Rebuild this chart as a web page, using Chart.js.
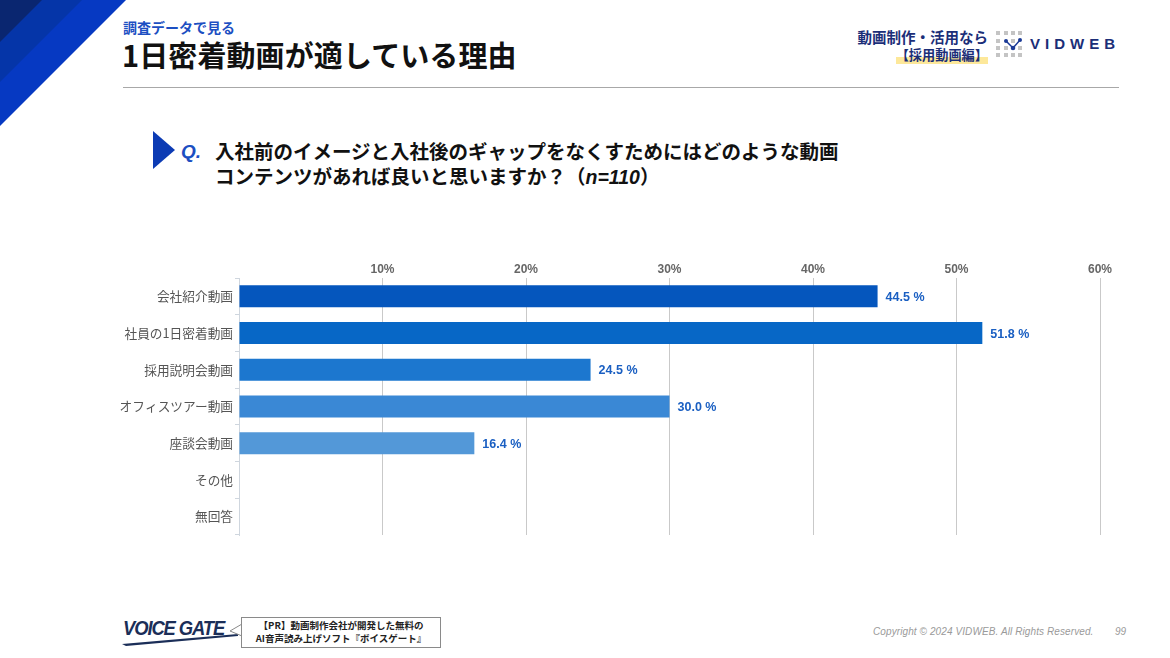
<!DOCTYPE html>
<html lang="ja">
<head>
<meta charset="utf-8">
<script src="https://cdn.jsdelivr.net/npm/chart.js@4.4.1/dist/chart.umd.min.js"></script>
<style>
  html, body { margin: 0; padding: 0; }
  body {
    width: 1170px; height: 658px; position: relative; overflow: hidden;
    background: #fff; font-family: "Noto Sans CJK JP", "Noto Sans", sans-serif;
  }
  .abs { position: absolute; white-space: nowrap; }
  #stripes { position: absolute; left: 0; top: 0; }
  .sub { left: 123px; top: 17px; font-size: 14px; font-weight: 700; color: #1c4fc2; }
  .title { left: 122px; top: 33px; font-size: 29px; font-weight: 700; color: #111; letter-spacing: 0.1px; }
  .rule { left: 123px; top: 87px; width: 996px; height: 1px; background: #a8a8a8; }
  .brand1 { right: 182px; top: 26px; font-size: 14.5px; font-weight: 700; color: #1b2e78; }
  .brand2 { right: 182px; top: 45px; font-size: 13.2px; font-weight: 700; color: #1b2e78; }
  .brand2 span { background: linear-gradient(transparent 62%, #fde89a 62%); }
  .vid { left: 1030px; top: 35px; font-size: 15px; font-weight: 700; color: #1b2e78; letter-spacing: 5px; font-family: "Liberation Sans", sans-serif; }
  .qmark { left: 153px; top: 131px; width: 0; height: 0; border-top: 19px solid transparent; border-bottom: 19px solid transparent; border-left: 22px solid #0c3bb4; }
  .q { left: 181px; top: 141px; font-size: 19px; font-weight: 700; font-style: italic; color: #1c4fc2; font-family: "Liberation Sans", sans-serif; }
  .qtext { left: 215px; top: 138px; font-size: 19.5px; font-weight: 700; color: #111; line-height: 25px; letter-spacing: 0; }
  .qtext i { font-family: "Liberation Sans", sans-serif; }
  #chartBox { position: absolute; left: 0; top: 250px; width: 1170px; height: 300px; }
  .vg { left: 123px; top: 617px; font-size: 20px; font-weight: 800; font-style: italic; color: #1b2e58; font-family: "Liberation Sans", sans-serif; letter-spacing: -1.2px; transform: scaleX(0.92); transform-origin: left; }
  .bubble { left: 241px; top: 617px; width: 198px; height: 28px; border: 1px solid #8a8a8a; font-size: 9.5px; font-weight: 700; color: #222; text-align: center; line-height: 13px; padding-top: 1px; }
  .copy { left: 873px; top: 626px; font-size: 10px; font-style: italic; color: #9a9a9a; font-family: "Liberation Sans", sans-serif; letter-spacing: 0.1px; }
  .page { left: 1115px; top: 626px; font-size: 10px; font-style: italic; color: #9a9a9a; font-family: "Liberation Sans", sans-serif; }
</style>
</head>
<body>
<svg id="stripes" width="140" height="140">
  <polygon points="0,0 126,0 0,126" fill="#0639c2"/>
  <polygon points="0,0 82,0 0,82" fill="#0535a8"/>
  <polygon points="0,0 42,0 0,42" fill="#0a2670"/>
</svg>
<div class="abs sub">調査データで見る</div>
<div class="abs title">1日密着動画が適している理由</div>
<div class="abs rule"></div>

<div class="abs brand1">動画制作・活用なら</div>
<div class="abs brand2"><span>【採用動画編】</span></div>
<svg class="abs" style="left:994px;top:29px" width="32" height="32">
  <g fill="#c4c4c4">
    <rect x="2" y="2" width="4" height="4"/><rect x="10" y="2" width="4" height="4"/><rect x="17" y="2" width="4" height="4"/><rect x="24" y="2" width="4" height="4"/>
    <rect x="2" y="10" width="4" height="4"/><rect x="24" y="17" width="4" height="4"/>
    <rect x="2" y="17" width="4" height="4"/><rect x="10" y="17" width="4" height="4"/><rect x="17" y="10" width="4" height="4"/>
    <rect x="2" y="24" width="4" height="4"/><rect x="10" y="24" width="4" height="4"/><rect x="17" y="24" width="4" height="4"/><rect x="24" y="24" width="4" height="4"/>
  </g>
  <polyline points="12,12 19,19 26,11" fill="none" stroke="#1b3a96" stroke-width="1.5"/>
  <g fill="#1b3a96"><circle cx="12" cy="12" r="2"/><circle cx="19" cy="19" r="2.3"/><circle cx="26" cy="11" r="2"/></g>
</svg>
<div class="abs vid">VIDWEB</div>

<div class="abs qmark"></div>
<div class="abs q">Q.</div>
<div class="abs qtext">入社前のイメージと入社後のギャップをなくすためにはどのような動画<br>コンテンツがあれば良いと思いますか？（<i>n=110</i>）</div>

<div id="chartBox"><canvas id="bars"></canvas></div>

<svg class="abs" style="left:120px;top:630px" width="125" height="16">
  <polygon points="2,14 118,4 118,6 6,16" fill="#1b2e58"/>
</svg>
<div class="abs vg">VOICE GATE</div>
<svg class="abs" style="left:228px;top:622px" width="16" height="18">
  <polyline points="14,2 2,9 14,14" fill="#fff" stroke="#8a8a8a" stroke-width="1"/>
</svg>
<div class="abs bubble">【PR】動画制作会社が開発した無料の<br>AI音声読み上げソフト『ボイスゲート』</div>
<div class="abs copy">Copyright © 2024 VIDWEB. All Rights Reserved.</div>
<div class="abs page">99</div>

<script>
const categories = ["会社紹介動画", "社員の1日密着動画", "採用説明会動画", "オフィスツアー動画", "座談会動画", "その他", "無回答"];
const shares = [44.5, 51.8, 24.5, 30.0, 16.4, 0, 0];
const barColors = ["#0556bd", "#0767c6", "#1c77cf", "#3a88d5", "#5398d8", "#6aa6dc", "#7db2e0"];
const tickValues = [0, 10, 20, 30, 40, 50, 60];

const valueLabels = {
  id: "valueLabels",
  afterDatasetsDraw(chart) {
    const ctx = chart.ctx;
    const meta = chart.getDatasetMeta(0);
    ctx.save();
    ctx.font = "bold 12.5px 'Liberation Sans', sans-serif";
    ctx.fillStyle = "#1a5fc2";
    ctx.textBaseline = "middle";
    meta.data.forEach((bar, i) => {
      if (!shares[i]) return;
      ctx.fillText(shares[i].toFixed(1) + " %", bar.x + 8, bar.y + 1);
    });
    ctx.restore();
  }
};

new Chart(document.getElementById("bars"), {
  type: "bar",
  data: {
    labels: categories,
    datasets: [{
      data: shares,
      backgroundColor: barColors,
      borderWidth: 0,
      categoryPercentage: 0.6,
      barPercentage: 1
    }]
  },
  options: {
    indexAxis: "y",
    responsive: true,
    maintainAspectRatio: false,
    animation: false,
    layout: { padding: { top: 0, right: 70, bottom: 15, left: 0 } },
    plugins: { legend: { display: false }, tooltip: { enabled: false } },
    scales: {
      x: {
        position: "top",
        min: 0,
        max: 60,
        afterBuildTicks: (axis) => { axis.ticks = tickValues.map((v) => ({ value: v })); },
        afterFit: (axis) => { axis.height = 28; },
        ticks: {
          padding: 1,
          color: "#666",
          font: { family: "'Liberation Sans', sans-serif", size: 12, weight: "bold" },
          callback: (v) => (v === 0 ? "" : v + "%")
        },
        grid: { color: "#c9c9c9", lineWidth: 1, tickLength: 0 },
        border: { display: false }
      },
      y: {
        afterFit: (axis) => { axis.width = 239; },
        ticks: {
          padding: 2,
          color: "#555",
          font: { family: "'Noto Sans CJK JP', sans-serif", size: 12.7 }
        },
        grid: { drawOnChartArea: false, tickLength: 4, color: "#cfd6de" },
        border: { color: "#cfd6de" }
      }
    }
  },
  plugins: [valueLabels]
});
</script>
</body>
</html>
